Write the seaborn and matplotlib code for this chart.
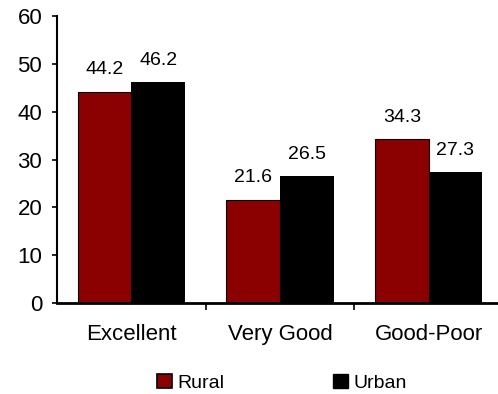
import pandas as pd
import matplotlib
matplotlib.use("Agg")
import matplotlib.pyplot as plt
import seaborn as sns

# dados
categorias = ["Excellent", "Very Good", "Good-Poor"]
rural = [44.2, 21.6, 34.3]
urbano = [46.2, 26.5, 27.3]

df = pd.DataFrame({
    "Categoria": categorias * 2,
    "Area": ["Rural"] * 3 + ["Urban"] * 3,
    "Valor": rural + urbano,
})

sns.set_style("white")
plt.rcParams["font.family"] = ["Liberation Sans", "DejaVu Sans"]
plt.rcParams["text.color"] = "black"
plt.rcParams["xtick.color"] = "black"
plt.rcParams["ytick.color"] = "black"
plt.rcParams["axes.labelcolor"] = "black"

fig = plt.figure(figsize=(4.98, 3.94), dpi=100)
ax = fig.add_axes([57 / 498, 91 / 394, 446 / 498, 287 / 394])

sns.barplot(
    data=df, x="Categoria", y="Valor", hue="Area",
    palette={"Rural": "#8B0000", "Urban": "#000000"},
    width=0.72, saturation=1, ax=ax, legend=False,
)

for patch, area in zip(ax.patches, ["Rural"] * 3 + ["Urban"] * 3):
    patch.set_edgecolor("black")
    patch.set_linewidth(0.8 if area == "Rural" else 0)

for cont in ax.containers:
    ax.bar_label(cont, fmt="%.1f", padding=9.5, fontsize=14, color="black")

ax.set_ylim(0, 60)
ax.set_xlim(-0.5, 2.5)
ax.set_yticks(range(0, 61, 10))
ax.set_xlabel("")
ax.set_ylabel("")
ax.tick_params(axis="y", left=True, length=3.6, width=1.2, labelsize=16, pad=7,
               color="black", labelcolor="black")
ax.tick_params(axis="x", which="major", length=0, labelsize=16, pad=15, labelcolor="black")
ax.set_xticks([0.5, 1.5], minor=True)
ax.tick_params(axis="x", which="minor", bottom=True, length=5, width=1.2, color="black")

for lado in ["top", "right"]:
    ax.spines[lado].set_visible(False)
for lado in ["left", "bottom"]:
    ax.spines[lado].set_color("black")
    ax.spines[lado].set_linewidth(1.5)
ax.spines["bottom"].set_linewidth(2)

handles = [
    plt.Rectangle((0, 0), 1, 1, facecolor="#8B0000", edgecolor="black", linewidth=1.2),
    plt.Rectangle((0, 0), 1, 1, facecolor="black", edgecolor="black"),
]
fig.legend(
    handles, ["Rural", "Urban"], loc="center", bbox_to_anchor=(0.566, 0.028),
    ncol=2, frameon=False, fontsize=14, handlelength=0.77, handleheight=0.77,
    handletextpad=0.26, columnspacing=5.6, borderpad=0, borderaxespad=0,
    labelcolor="black",
)

fig.savefig("out.png", dpi=100)
